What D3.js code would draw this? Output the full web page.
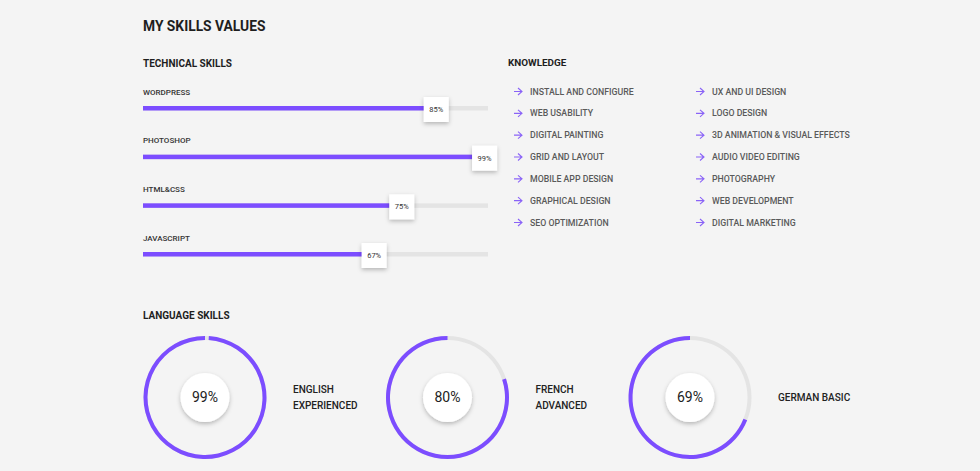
<!DOCTYPE html>
<html>
<head>
<meta charset="utf-8">
<script src="https://cdn.jsdelivr.net/npm/d3@7"></script>
<style>
  html, body { margin: 0; padding: 0; background: #f4f4f4; }
  svg { display: block; font-family: Roboto, "Open Sans", sans-serif; }
</style>
</head>
<body>
<div id="chart"></div>
<script>
// Technical skills (bar values in %)
const skillNames = ["WORDPRESS", "PHOTOSHOP", "HTML&CSS", "JAVASCRIPT"];
const skillValues = [85, 99, 75, 67];

// Knowledge list, two columns
const knowledgeLeft = ["INSTALL AND CONFIGURE", "WEB USABILITY", "DIGITAL PAINTING", "GRID AND LAYOUT",
                       "MOBILE APP DESIGN", "GRAPHICAL DESIGN", "SEO OPTIMIZATION"];
const knowledgeRight = ["UX AND UI DESIGN", "LOGO DESIGN", "3D ANIMATION & VISUAL EFFECTS", "AUDIO VIDEO EDITING",
                        "PHOTOGRAPHY", "WEB DEVELOPMENT", "DIGITAL MARKETING"];

// Language skills
const langNames = ["ENGLISH", "FRENCH", "GERMAN"];
const langLevels = [["ENGLISH", "EXPERIENCED"], ["FRENCH", "ADVANCED"], ["GERMAN BASIC"]];
const langValues = [99, 80, 69];

const w = 980, h = 471;
const purple = "#7c4dff";
const track = "#e4e4e4";

const svg = d3.select("#chart").append("svg")
              .attr("width", w)
              .attr("height", h);

// soft shadow for the value boxes and circles
const defs = svg.append("defs");
const shadow = defs.append("filter")
                   .attr("id", "shadow")
                   .attr("x", "-50%").attr("y", "-50%")
                   .attr("width", "200%").attr("height", "200%");
shadow.append("feDropShadow")
      .attr("dx", 0).attr("dy", 2)
      .attr("stdDeviation", 2)
      .attr("flood-color", "#000")
      .attr("flood-opacity", 0.25);

svg.append("rect").attr("width", w).attr("height", h).attr("fill", "#f4f4f4");

// headings
const heading = (txt, x, y, size) => svg.append("text")
    .text(txt)
    .attr("x", x).attr("y", y)
    .attr("dy", "0.35em")
    .style("font-size", size + "px")
    .style("font-weight", 700)
    .style("fill", "#1e1e1e");

heading("MY SKILLS VALUES", 143, 26, 13.8);
heading("TECHNICAL SKILLS", 143, 63, 10);
heading("KNOWLEDGE", 508, 63, 9.9);
heading("LANGUAGE SKILLS", 143, 315, 10);

// ---- bars ----
const xScale = d3.scaleLinear().domain([0, 100]).range([143, 488]);
const rowScale = d3.scalePoint().domain(skillNames).range([108, 254]);

const rows = svg.selectAll(".skill")
                .data(skillNames)
                .enter()
                .append("g")
                .attr("class", "skill")
                .attr("transform", d => "translate(0," + rowScale(d) + ")");

rows.append("text")
    .text(d => d)
    .attr("x", 143)
    .attr("y", -16)
    .attr("dy", "0.35em")
    .style("font-size", "8px")
    .style("font-weight", 500)
    .style("fill", "#333");

rows.append("rect")
    .attr("x", xScale(0))
    .attr("y", -2)
    .attr("width", xScale(100) - xScale(0))
    .attr("height", 4.5)
    .attr("fill", track);

rows.append("rect")
    .attr("x", xScale(0))
    .attr("y", -2)
    .attr("width", (d, i) => xScale(skillValues[i]) - xScale(0))
    .attr("height", 4.5)
    .attr("fill", purple);

rows.append("rect")
    .attr("x", (d, i) => xScale(skillValues[i]) - 12.5)
    .attr("y", -11)
    .attr("width", 25)
    .attr("height", 25)
    .attr("fill", "#fff")
    .attr("filter", "url(#shadow)");

rows.append("text")
    .text((d, i) => skillValues[i] + "%")
    .attr("x", (d, i) => xScale(skillValues[i]))
    .attr("y", 1.5)
    .attr("dy", "0.35em")
    .attr("text-anchor", "middle")
    .style("font-size", "7.5px")
    .style("fill", "#333");

// ---- knowledge list ----
const kyScale = d3.scalePoint().domain(d3.range(knowledgeLeft.length)).range([91.5, 222.5]);

const drawList = (items, ax, tx) => {
    const g = svg.append("g");
    const item = g.selectAll("g")
                  .data(items)
                  .enter()
                  .append("g")
                  .attr("transform", (d, i) => "translate(0," + kyScale(i) + ")");
    item.append("path")
        .attr("d", "M" + (ax - 4) + ",0H" + (ax + 4) + "M" + ax + ",-3.5L" + (ax + 4) + ",0L" + ax + ",3.5")
        .attr("fill", "none")
        .attr("stroke", "#8a63f7")
        .attr("stroke-width", 1.1);
    item.append("text")
        .text(d => d)
        .attr("x", tx)
        .attr("dy", "0.35em")
        .style("font-size", "8.75px")
        .style("font-weight", 500)
        .style("fill", "#5a5a5a");
};
drawList(knowledgeLeft, 518, 530);
drawList(knowledgeRight, 700, 712);

// ---- language circles ----
const cxScale = d3.scalePoint().domain(langNames).range([205, 690]);
const cy = 397.5;
const ring = d3.arc().innerRadius(57.5).outerRadius(61.5);

const circles = svg.selectAll(".lang")
                   .data(langNames)
                   .enter()
                   .append("g")
                   .attr("class", "lang")
                   .attr("transform", d => "translate(" + cxScale(d) + "," + cy + ")");

circles.append("path")
       .attr("d", ring({ startAngle: 0, endAngle: 2 * Math.PI }))
       .attr("fill", track);

circles.append("path")
       .attr("d", (d, i) => ring({ startAngle: (1 - langValues[i] / 100) * 2 * Math.PI, endAngle: 2 * Math.PI }))
       .attr("fill", purple);

circles.append("circle")
       .attr("r", 24.5)
       .attr("fill", "#fff")
       .attr("filter", "url(#shadow)");

circles.append("text")
       .text((d, i) => langValues[i] + "%")
       .attr("text-anchor", "middle")
       .attr("dy", "0.35em")
       .style("font-size", "14px")
       .style("fill", "#222");

circles.each(function (d, i) {
    const lines = langLevels[i];
    const t = d3.select(this).append("text")
                .attr("x", 88)
                .style("font-size", "10px")
                .style("font-weight", 500)
                .style("fill", "#222");
    lines.forEach((line, j) => {
        t.append("tspan")
         .attr("x", 88)
         .attr("y", (j - (lines.length - 1) / 2) * 16)
         .attr("dy", "0.35em")
         .text(line);
    });
});
</script>
</body>
</html>
